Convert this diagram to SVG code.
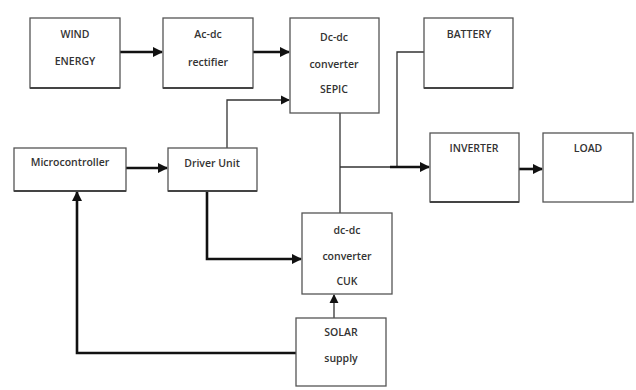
<svg xmlns="http://www.w3.org/2000/svg" width="636" height="390" viewBox="0 0 636 390">
<defs>
<style>
.box{fill:#fff;stroke:#555;stroke-width:1.3}
.sh{stroke:#444;stroke-width:2}
.t{font-family:"Open Sans","Liberation Sans",sans-serif;font-size:10.5px;font-weight:600;fill:#333;text-anchor:middle}
.thick{fill:none;stroke:#111;stroke-width:2.6}
.thin{fill:none;stroke:#333;stroke-width:1.3}
</style>
<marker id="ah" viewBox="0 0 10 10" refX="9" refY="5" markerWidth="4" markerHeight="4" orient="auto" markerUnits="strokeWidth"><path d="M0,0L10,5L0,10z" fill="#111"/></marker>
<marker id="ah2" viewBox="0 0 10 10" refX="9" refY="5" markerWidth="7" markerHeight="7" orient="auto" markerUnits="strokeWidth"><path d="M0,0L10,5L0,10z" fill="#111"/></marker>
</defs>
<rect width="636" height="390" fill="#fff"/>
<g id="connectors">
<path class="thick" d="M120,52H162" marker-end="url(#ah)"/>
<path class="thick" d="M253,52H289" marker-end="url(#ah)"/>
<path class="thin" d="M227,148V100H289" marker-end="url(#ah2)"/>
<path class="thick" d="M126,168H167" marker-end="url(#ah)"/>
<path class="thick" d="M207,191V259H301" marker-end="url(#ah)"/>
<path class="thick" d="M296,353H77V192" marker-end="url(#ah)"/>
<path class="thin" d="M334,318V295" marker-end="url(#ah2)"/>
<path class="thin" d="M340,113V213"/>
<path class="thin" d="M424,52H397V167"/>
<path class="thin" d="M340,167H390"/>
<path class="thick" d="M390,167H429" marker-end="url(#ah)"/>
<path class="thick" d="M519,169H542" marker-end="url(#ah)"/>
</g>
<g id="wind"><rect class="box" x="30" y="18" width="90" height="70"/><line class="sh" x1="30" y1="88" x2="120" y2="88"/><text class="t" x="75" y="38">WIND</text><text class="t" x="75" y="65">ENERGY</text></g>
<g id="rectifier"><rect class="box" x="163" y="18" width="90" height="70"/><line class="sh" x1="163" y1="88" x2="253" y2="88"/><text class="t" x="208" y="38">Ac-dc</text><text class="t" x="208" y="66">rectifier</text></g>
<g id="sepic"><rect class="box" x="290" y="18" width="89" height="95"/><text class="t" x="334" y="41">Dc-dc</text><text class="t" x="334" y="68">converter</text><text class="t" x="334" y="93">SEPIC</text></g>
<g id="battery"><rect class="box" x="424" y="18" width="89" height="70"/><line class="sh" x1="424" y1="88" x2="513" y2="88"/><text class="t" x="469" y="38">BATTERY</text></g>
<g id="micro"><rect class="box" x="14" y="148" width="112" height="43"/><line class="sh" x1="14" y1="191" x2="126" y2="191"/><text class="t" x="70" y="166">Microcontroller</text></g>
<g id="driver"><rect class="box" x="168" y="148" width="89" height="43"/><line class="sh" x1="168" y1="191" x2="257" y2="191"/><text class="t" x="212" y="167">Driver Unit</text></g>
<g id="inverter"><rect class="box" x="430" y="133" width="89" height="69"/><line class="sh" x1="430" y1="202" x2="519" y2="202"/><text class="t" x="474" y="152">INVERTER</text></g>
<g id="load"><rect class="box" x="543" y="133" width="90" height="69"/><text class="t" x="588" y="152">LOAD</text></g>
<g id="cuk"><rect class="box" x="302" y="213" width="90" height="81"/><text class="t" x="347" y="234">dc-dc</text><text class="t" x="347" y="260">converter</text><text class="t" x="347" y="285">CUK</text></g>
<g id="solar"><rect class="box" x="296" y="318" width="90" height="68"/><text class="t" x="341" y="336">SOLAR</text><text class="t" x="341" y="362">supply</text></g>
</svg>
